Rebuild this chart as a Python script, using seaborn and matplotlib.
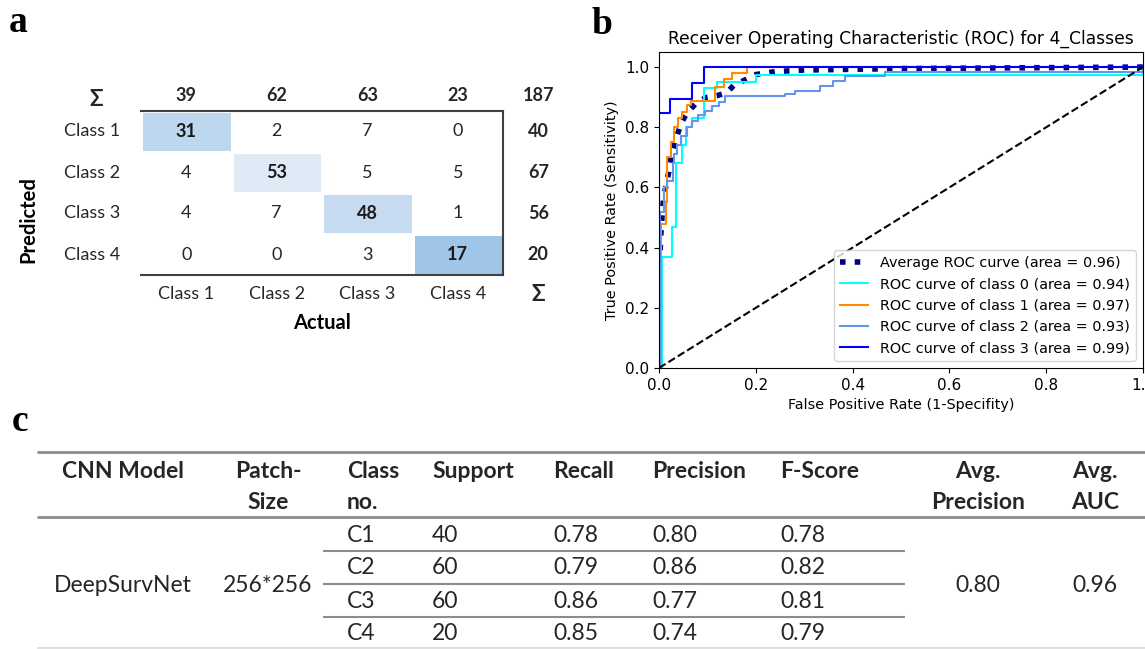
"""
Confusion matrix, ROC curves and per-class metrics table for DeepSurvNet.
"""
import numpy as np
import pandas as pd
import seaborn as sns
import matplotlib.pyplot as plt
from matplotlib.colors import LinearSegmentedColormap

# ---------------- panel a : confusion matrix ----------------
classes = ["Class 1", "Class 2", "Class 3", "Class 4"]
conf = [[31, 2, 7, 0],
        [4, 53, 5, 5],
        [4, 7, 48, 1],
        [0, 0, 3, 17]]
col_sums = [39, 62, 63, 23]
row_sums = [40, 67, 56, 20]
total = 187

# ---------------- panel b : ROC curves ----------------
avg_fpr = [0.0, 0.0, 0.004, 0.007, 0.010, 0.015, 0.020, 0.025, 0.030, 0.037, 0.045, 0.055,
           0.065, 0.080, 0.100, 0.120, 0.140, 0.155, 0.175, 0.200, 0.240, 0.300, 0.500, 1.0]
avg_tpr = [0.0, 0.30, 0.45, 0.52, 0.57, 0.61, 0.65, 0.70, 0.73, 0.77, 0.81, 0.84,
           0.86, 0.885, 0.90, 0.905, 0.915, 0.94, 0.955, 0.975, 0.985, 0.99, 0.995, 1.0]

fpr0 = [0.0, 0.007, 0.027, 0.035, 0.048, 0.055, 0.068, 0.092, 0.120, 0.200, 1.0]
tpr0 = [0.0, 0.370, 0.470, 0.680, 0.740, 0.800, 0.830, 0.930, 0.950, 0.975, 1.0]

fpr1 = [0.0, 0.005, 0.014, 0.017, 0.024, 0.031, 0.040, 0.048, 0.057, 0.067, 0.116, 0.135, 0.150, 0.182, 1.0]
tpr1 = [0.0, 0.480, 0.550, 0.700, 0.750, 0.800, 0.830, 0.850, 0.875, 0.887, 0.935, 0.960, 0.980, 1.000, 1.0]

fpr2 = [0.0, 0.003, 0.010, 0.016, 0.028, 0.031, 0.037, 0.046, 0.057, 0.068, 0.081, 0.095,
        0.109, 0.123, 0.137, 0.260, 0.281, 0.333, 0.360, 0.385, 0.467, 1.0]
tpr2 = [0.0, 0.520, 0.600, 0.620, 0.680, 0.710, 0.740, 0.770, 0.800, 0.820, 0.840, 0.855,
        0.870, 0.885, 0.904, 0.912, 0.921, 0.938, 0.954, 0.969, 0.982, 1.0]

fpr3 = [0.0, 0.0, 0.023, 0.069, 0.092, 1.0]
tpr3 = [0.0, 0.846, 0.894, 0.948, 1.0, 1.0]

roc_auc = {"avg": 0.96, 0: 0.94, 1: 0.97, 2: 0.93, 3: 0.99}

# ---------------- panel c : metrics table ----------------
header_top = ["CNN Model", "Patch-", "Class", "Support", "Recall", "Precision", "F-Score", "Avg.", "Avg."]
header_bot = ["", "Size", "no.", "", "", "", "", "Precision", "AUC"]
model_name = "DeepSurvNet"
patch_size = "256*256"
class_no = ["C1", "C2", "C3", "C4"]
support = [40, 60, 60, 20]
recall = [0.78, 0.79, 0.86, 0.85]
precision = [0.80, 0.86, 0.77, 0.74]
fscore = [0.78, 0.82, 0.81, 0.79]
avg_precision = 0.80
avg_auc = 0.96

# ---------------- layout ----------------
W, H = 1145, 649
fig = plt.figure(figsize=(W / 100, H / 100), dpi=100)
plt.rcParams['font.family'] = ['DejaVu Sans']
CAL = ['Lato', 'DejaVu Sans']   # stand-in for Calibri
SERIF = ['Liberation Serif', 'DejaVu Serif']
TXT = "#262626"


def px_axes(x0, y0, x1, y1):
    return fig.add_axes([x0 / W, 1 - y1 / H, (x1 - x0) / W, (y1 - y0) / H])


# ---- a ----
ax_a = px_axes(141, 111, 503, 275)
df = pd.DataFrame(conf, index=classes, columns=classes)
mask = ~np.eye(4, dtype=bool)
# excel-like colour scale: smaller diagonal count -> darker blue
cm_cmap = LinearSegmentedColormap.from_list(
    "cm", [(0.0, "#9fc5e8"), (0.39, "#bdd7ee"), (0.86, "#c6dbf0"), (1.0, "#deebf7")])
sns.heatmap(df, mask=mask, cmap=cm_cmap, vmin=17, vmax=53, annot=True, fmt="d",
            cbar=False, linewidths=2, linecolor="white",
            annot_kws=dict(fontsize=13, fontweight="bold", color="#1a1a1a", family=CAL),
            ax=ax_a)
for i in range(4):
    for j in range(4):
        if i != j:
            ax_a.text(j + 0.5, i + 0.5, str(conf[i][j]), ha="center", va="center",
                      fontsize=13, color=TXT, family=CAL)
    ax_a.text(4.39, i + 0.5, str(row_sums[i]), ha="center", va="center",
              fontsize=13, fontweight="bold", color=TXT, family=CAL)
for j in range(4):
    ax_a.text(j + 0.5, -0.37, str(col_sums[j]), ha="center", va="center",
              fontsize=13, fontweight="bold", color=TXT, family=CAL)
ax_a.text(4.39, -0.37, str(total), ha="center", va="center",
          fontsize=13, fontweight="bold", color=TXT, family=CAL)
ax_a.text(-0.49, -0.27, "Σ", ha="center", va="center", fontsize=16, fontweight="bold",
          color=TXT, family=CAL)
ax_a.text(4.39, 4.47, "Σ", ha="center", va="center", fontsize=16, fontweight="bold",
          color=TXT, family=CAL)

ax_a.tick_params(length=0, labelsize=13)
ax_a.tick_params(axis="x", pad=8)
ax_a.tick_params(axis="y", pad=15)
for lab in ax_a.get_xticklabels() + ax_a.get_yticklabels():
    lab.set_family(CAL)
    lab.set_color(TXT)
plt.setp(ax_a.get_yticklabels(), rotation=0)
for sp in ["top", "right", "bottom"]:
    ax_a.spines[sp].set_visible(True)
    ax_a.spines[sp].set_color("#404040")
    ax_a.spines[sp].set_linewidth(1.5)
ax_a.set_xlabel("")
ax_a.set_ylabel("")
ax_a.text(-0.31, 0.34, "Predicted", transform=ax_a.transAxes, rotation=90, ha="center",
          va="center", fontsize=14.5, fontweight="bold", family=CAL)
ax_a.text(0.5, -0.29, "Actual", transform=ax_a.transAxes, ha="center", va="center",
          fontsize=14.5, fontweight="bold", family=CAL)

# ---- b ----
ax_b = px_axes(659, 52, 1143, 368)
sns.lineplot(x=avg_fpr, y=avg_tpr, ax=ax_b, color="navy", linestyle=":", linewidth=4,
             estimator=None, sort=False,
             label="Average ROC curve (area = {0:0.2f})".format(roc_auc["avg"]))
for k, (fx, ty, col) in enumerate([(fpr0, tpr0, "aqua"), (fpr1, tpr1, "darkorange"),
                                    (fpr2, tpr2, "cornflowerblue"), (fpr3, tpr3, "blue")]):
    sns.lineplot(x=fx, y=ty, ax=ax_b, color=col, linewidth=1.5, drawstyle="steps-post",
                 estimator=None, sort=False,
                 label="ROC curve of class {0} (area = {1:0.2f})".format(k, roc_auc[k]))
sns.lineplot(x=[0, 1], y=[0, 1], ax=ax_b, color="k", linestyle="--", linewidth=1.5,
             estimator=None, sort=False)
ax_b.set_xlim(0.0, 1.0)
ax_b.set_ylim(0.0, 1.05)
ax_b.set_xlabel("False Positive Rate (1-Specifity)", fontsize=10.4)
ax_b.set_ylabel("True Positive Rate (Sensitivity)", fontsize=10.4)
ax_b.set_title("Receiver Operating Characteristic (ROC) for 4_Classes", fontsize=12.3)
ax_b.tick_params(labelsize=11)
ax_b.legend(loc="lower right", fontsize=10.4)

# ---- c ----
ax_c = px_axes(0, 400, W, H)
ax_c.set_xlim(0, W)
ax_c.set_ylim(H, 400)
ax_c.axis("off")
FS = 16.5
col_x = [123, 268, 347, 432, 553, 652, 780, 978, 1095]
col_ha = ["center", "center", "left", "left", "left", "left", "left", "center", "center"]
rule_c = "#8c8c8c"
ax_c.hlines([452, 517], 37, W, color=rule_c, lw=2)
ax_c.hlines([648], 37, W, color="#e0e0e0", lw=1.5)
row_y = [536, 567, 601, 634]
ax_c.hlines([551, 584, 617], 323, 905, color=rule_c, lw=1.5)
for x, ha, t1, t2 in zip(col_x, col_ha, header_top, header_bot):
    ax_c.text(x, 471, t1, ha=ha, va="center", fontsize=FS, fontweight="bold", color=TXT, family=CAL)
    if t2:
        ax_c.text(x, 502, t2, ha=ha, va="center", fontsize=FS, fontweight="bold", color=TXT, family=CAL)
mid = (row_y[0] + row_y[-1]) / 2
ax_c.text(col_x[0], mid, model_name, ha="center", va="center", fontsize=FS, color=TXT, family=CAL)
ax_c.text(col_x[1], mid, patch_size, ha="center", va="center", fontsize=FS, color=TXT, family=CAL)
ax_c.text(col_x[7], mid, "{:.2f}".format(avg_precision), ha="center", va="center", fontsize=FS,
          color=TXT, family=CAL)
ax_c.text(col_x[8], mid, "{:.2f}".format(avg_auc), ha="center", va="center", fontsize=FS,
          color=TXT, family=CAL)
for r, y in enumerate(row_y):
    vals = [class_no[r], str(support[r]), "{:.2f}".format(recall[r]),
            "{:.2f}".format(precision[r]), "{:.2f}".format(fscore[r])]
    for x, v in zip(col_x[2:7], vals):
        ax_c.text(x, y, v, ha="left", va="center", fontsize=FS, color=TXT, family=CAL)

# panel letters
fig.text(9 / W, 1 - 32 / H, "a", fontsize=27, fontweight="bold", family=SERIF)
fig.text(592 / W, 1 - 34 / H, "b", fontsize=27, fontweight="bold", family=SERIF)
fig.text(12 / W, 1 - 431 / H, "c", fontsize=27, fontweight="bold", family=SERIF)

fig.savefig("out.png", dpi=100)
